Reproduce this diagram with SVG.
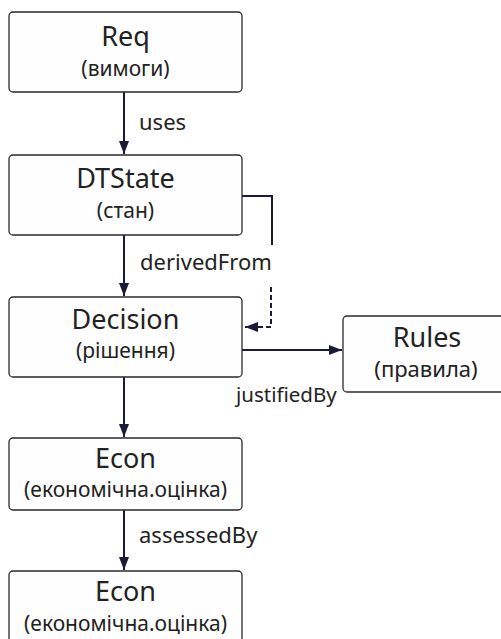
<svg xmlns="http://www.w3.org/2000/svg" width="501" height="639" viewBox="0 0 501 639">
<defs>
<style>
.box{fill:#fefefe;stroke:#2a2a2a;stroke-width:1.3}
.t{font-family:"Noto Sans","Open Sans",sans-serif;fill:#222222;text-anchor:middle}
.h{font-size:27px}
.s{font-size:21px}
.lbl{font-family:"Noto Sans","Open Sans",sans-serif;fill:#222222;font-size:22px}
.e{fill:none;stroke:#1b1b38;stroke-width:2}
.d{fill:none;stroke:#1b1b38;stroke-width:2;stroke-dasharray:5 3}
</style>
<marker id="ah" viewBox="0 0 13 10" refX="13" refY="5" markerWidth="13" markerHeight="10" markerUnits="userSpaceOnUse" orient="auto">
<path d="M0,0 L13,5 L0,10 z" fill="#1b1b38"/>
</marker>
</defs>
<rect width="501" height="639" fill="#ffffff"/>
<g id="connectors">
<line class="e" x1="124" y1="92" x2="124" y2="154" marker-end="url(#ah)"/>
<line class="e" x1="124" y1="235" x2="124" y2="296" marker-end="url(#ah)"/>
<polyline class="e" points="242,196 272,196 272,245"/>
<polyline class="d" points="271,287 271,327 245,327" marker-end="url(#ah)"/>
<line class="e" x1="242" y1="350" x2="342" y2="350" marker-end="url(#ah)"/>
<line class="e" x1="124" y1="377" x2="124" y2="437" marker-end="url(#ah)"/>
<line class="e" x1="124" y1="510" x2="124" y2="570" marker-end="url(#ah)"/>
<text class="lbl" x="139" y="130">uses</text>
<text class="lbl" x="140" y="270">derivedFrom</text>
<text class="lbl" x="236" y="402" style="font-size:20.5px">justifiedBy</text>
<text class="lbl" x="139" y="543">assessedBy</text>
</g>
<g id="req">
<rect class="box" x="9" y="12" width="233" height="80" rx="4"/>
<text class="t h" x="125.5" y="46">Req</text>
<text class="t s" x="125.5" y="76">(вимоги)</text>
</g>
<g id="dtstate">
<rect class="box" x="9" y="155" width="233" height="80" rx="4"/>
<text class="t h" x="125.5" y="188">DTState</text>
<text class="t s" x="125.5" y="218">(стан)</text>
</g>
<g id="decision">
<rect class="box" x="9" y="297" width="233" height="80" rx="4"/>
<text class="t h" x="125.5" y="329">Decision</text>
<text class="t s" x="125.5" y="358">(рішення)</text>
</g>
<g id="rules">
<rect class="box" x="343" y="316" width="170" height="76" rx="4"/>
<text class="t h" x="427" y="347">Rules</text>
<text class="t s" x="426" y="377" style="font-size:22px">(правила)</text>
</g>
<g id="econ1">
<rect class="box" x="9" y="438" width="233" height="72" rx="4"/>
<text class="t h" x="125.5" y="468">Econ</text>
<text class="t s" x="125.5" y="497">(економічна.оцінка)</text>
</g>
<g id="econ2">
<rect class="box" x="9" y="571" width="233" height="80" rx="4"/>
<text class="t h" x="125.5" y="601">Econ</text>
<text class="t s" x="125.5" y="631">(економічна.оцінка)</text>
</g>
</svg>
